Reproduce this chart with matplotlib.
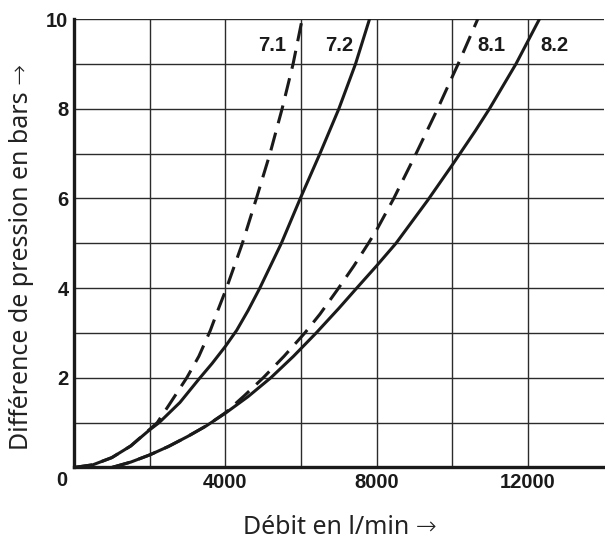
import matplotlib
matplotlib.use("Agg")
import matplotlib.pyplot as plt

# flow (l/min) vs pressure difference (bar)
x_71 = [0, 500, 1000, 1500, 2000, 2200, 2500, 2980, 3300, 3600, 3800, 4030, 4450, 4820, 5180, 5500, 5790, 6030]
y_71 = [0, 0.06, 0.22, 0.48, 0.85, 1.0, 1.38, 2.0, 2.48, 3.05, 3.5, 4.0, 5.0, 6.0, 7.0, 8.0, 9.0, 10.0]

x_72 = [0, 500, 1000, 1500, 2000, 2250, 2800, 3300, 3650, 4000, 4300, 4600, 4910, 5480, 5980, 6500, 7000, 7440, 7810]
y_72 = [0, 0.06, 0.22, 0.48, 0.84, 1.0, 1.45, 1.97, 2.32, 2.7, 3.06, 3.5, 4.0, 5.0, 6.0, 7.0, 8.0, 9.0, 10.0]

x_81 = [1000, 1500, 2000, 2500, 3000, 3500, 4000, 4500, 5000, 5550, 6100, 6500, 6950, 7400, 7780, 8000, 8450, 9040, 9610, 10000, 10180, 10670]
y_81 = [0, 0.12, 0.28, 0.47, 0.69, 0.93, 1.22, 1.6, 2.0, 2.48, 3.0, 3.42, 3.95, 4.5, 5.0, 5.3, 6.0, 7.0, 8.0, 8.72, 9.05, 10.0]

x_82 = [1000, 1500, 2000, 2500, 3000, 3500, 4000, 4600, 5200, 5800, 6400, 7000, 7450, 8000, 8510, 9340, 10000, 10600, 10980, 11680, 12300]
y_82 = [0, 0.12, 0.28, 0.47, 0.69, 0.93, 1.21, 1.58, 2.0, 2.48, 3.0, 3.55, 3.98, 4.5, 5.0, 5.95, 6.75, 7.5, 8.0, 9.0, 10.0]

curve_names = ["7.1", "7.2", "8.1", "8.2"]
label_x = [5240, 7005, 11030, 12705]
label_y = [9.41, 9.41, 9.41, 9.41]

x_ticks = [4000, 8000, 12000]
y_ticks = [2, 4, 6, 8, 10]

tick_font = ["Liberation Sans", "DejaVu Sans"]
label_font = ["Noto Sans", "DejaVu Sans"]

fig = plt.figure(figsize=(6.05, 5.39), dpi=100)
ax = fig.add_axes([0.1223, 0.1327, 0.8757, 0.832])
ax.set_xlim(0, 14000)
ax.set_ylim(0, 10)

grid_c = "#2b2b2b"
for gx in range(2000, 14000, 2000):
    ax.axvline(gx, color=grid_c, lw=1.0, zorder=1)
for gy in range(1, 11):
    ax.axhline(gy, color=grid_c, lw=1.0, zorder=1)

ink = "#1a1a1a"
dash = (0, (6, 3.2))
ax.plot(x_71, y_71, color=ink, lw=2.2, ls=dash, dash_capstyle="butt", zorder=3)
ax.plot(x_72, y_72, color=ink, lw=2.2, solid_joinstyle="round", zorder=3)
ax.plot(x_81, y_81, color=ink, lw=2.2, ls=dash, dash_capstyle="butt", zorder=3)
ax.plot(x_82, y_82, color=ink, lw=2.2, solid_joinstyle="round", zorder=3)

for name, lx, ly in zip(curve_names, label_x, label_y):
    ax.text(lx, ly, name, ha="center", va="center", fontsize=14.5,
            fontweight="bold", family=tick_font, color=ink, zorder=4)

for s in ["right", "top"]:
    ax.spines[s].set_visible(False)
ax.spines["left"].set_linewidth(2.4)
ax.spines["bottom"].set_linewidth(2.4)
ax.spines["left"].set_color(ink)
ax.spines["bottom"].set_color(ink)

ax.set_xticks(x_ticks)
ax.set_yticks(y_ticks)
ax.tick_params(axis="x", length=0, pad=4)
ax.tick_params(axis="y", length=0, pad=4)
for t in ax.get_xticklabels() + ax.get_yticklabels():
    t.set_fontfamily(tick_font)
    t.set_fontweight("bold")
    t.set_fontsize(14.5)
    t.set_color(ink)
ax.annotate("0", xy=(0, 0), xytext=(-12, -13.5), textcoords="offset pixels",
            ha="center", va="center", fontsize=14.5, fontweight="bold",
            family=tick_font, color=ink)

fig.text(340 / 605, 1 - 527 / 539, "Débit en l/min →", fontsize=18,
         family=label_font, fontweight="light", color="#222222",
         ha="center", va="center")
fig.text(22 / 605, 1 - 257 / 539, "Différence de pression en bars →",
         fontsize=18, family=label_font, fontweight="light", color="#222222",
         ha="center", va="center", rotation=90)

fig.savefig("out.png", dpi=100)
